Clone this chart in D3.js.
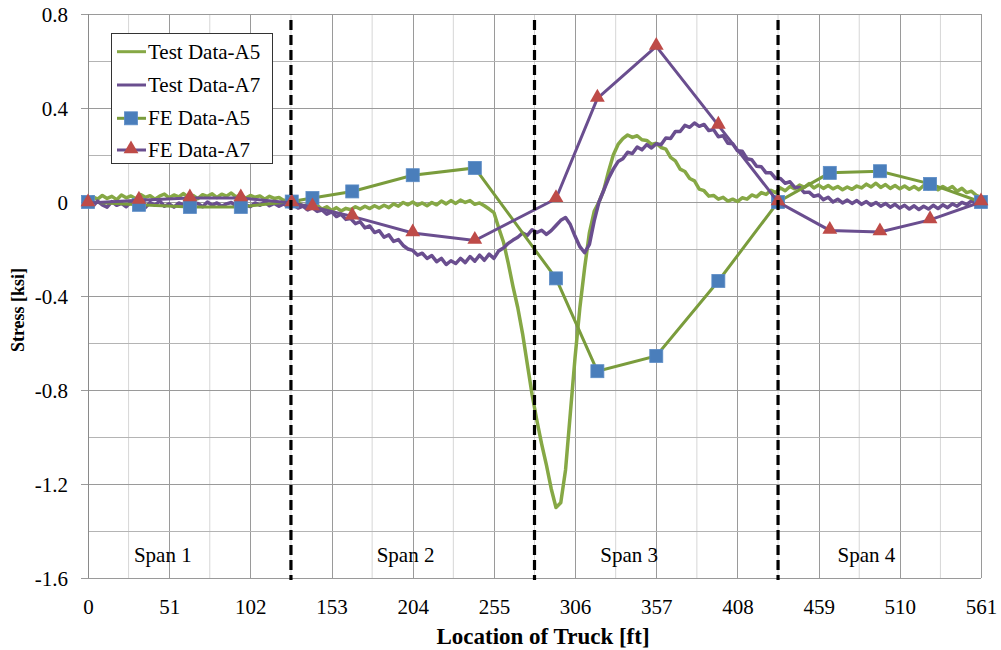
<!DOCTYPE html>
<html>
<head>
<meta charset="utf-8">
<script src="https://cdn.jsdelivr.net/npm/d3@7"></script>
<style>
  html, body { margin: 0; padding: 0; background: #fff; }
  svg { display: block; }
  svg text { font-family: "Liberation Serif", "Times New Roman", serif !important; fill: #000; }
</style>
</head>
<body>
<svg id="chart" width="1001" height="650"></svg>
<script>
// ---------- DATA ----------
const testLocation = [0,3,6,9,12,15,18,21,24,27,30,33,36,39,42,45,48,51,54,57,60,63,66,69,72,75,78,81,84,87,90,93,96,99,102,105,108,111,114,117,120,123,126,129,132,135,138,141,144,147,150,153,156,159,162,165,168,171,174,177,180,183,186,189,192,195,198,201,204,207,210,213,216,219,222,225,228,231,234,237,240,243,246,249,252,255,258,261,264,267,270,273,276,279,282,285,288,291,294,297,300,303,306,309,312,315,318,321,324,327,330,333,336,339,342,345,348,351,354,357,360,363,366,369,372,375,378,381,384,387,390,393,396,399,402,405,408,411,414,417,420,423,426,429,432,435,438,441,444,447,450,453,456,459,462,465,468,471,474,477,480,483,486,489,492,495,498,501,504,507,510,513,516,519,522,525,528,531,534,537,540,543,546,549,552,555,558,561];

const testA5 = [
  0.008, 0.022, 0.012, 0.028, 0.015, 0.024, 0.010, 0.030, 0.018, 0.026,
  0.014, 0.032, 0.020, 0.027, 0.012, 0.025, 0.034, 0.018, 0.030, 0.022,
  0.036, 0.020, 0.028, 0.014, 0.031, 0.024, 0.035, 0.019, 0.033, 0.025,
  0.038, 0.022, 0.030, 0.016, 0.028, 0.020, 0.026, 0.012, 0.024, 0.015,
  0.019, 0.006, 0.010, -0.008, 0.000, -0.018, -0.010, -0.026, -0.015, -0.030,
  -0.020, -0.036, -0.024, -0.038, -0.027, -0.033, -0.020, -0.030, -0.018, -0.028,
  -0.016, -0.026, -0.014, -0.024, -0.008, -0.018, -0.002, -0.012, 0.000, -0.014,
  -0.004, -0.016, -0.002, -0.012, 0.004, -0.008, 0.006, -0.006, 0.008, -0.002,
  0.006, -0.010, -0.004, -0.016, -0.030, -0.045, -0.11, -0.17, -0.26, -0.36,
  -0.45, -0.56, -0.69, -0.82, -0.93, -1.03, -1.12, -1.22, -1.30, -1.28,
  -1.14, -0.90, -0.66, -0.45, -0.28, -0.13, -0.04, 0.00, 0.05, 0.13,
  0.20, 0.245, 0.27, 0.285, 0.275, 0.282, 0.265, 0.262, 0.245, 0.25,
  0.232, 0.225, 0.19, 0.175, 0.14, 0.13, 0.10, 0.09, 0.055, 0.048,
  0.025, 0.028, 0.012, 0.020, 0.004, 0.012, 0.002, 0.018, 0.012, 0.030,
  0.022, 0.040, 0.032, 0.050, 0.040, 0.060, 0.048, 0.066, 0.056, 0.072,
  0.062, 0.078, 0.060, 0.072, 0.058, 0.070, 0.056, 0.066, 0.052, 0.064,
  0.054, 0.068, 0.060, 0.076, 0.064, 0.080, 0.062, 0.074, 0.058, 0.070,
  0.056, 0.068, 0.054, 0.066, 0.052, 0.070, 0.056, 0.068, 0.052, 0.066,
  0.054, 0.066, 0.046, 0.058, 0.040, 0.046, 0.028, 0.020
];

const testA7 = [
  -0.004, -0.018, 0.004, -0.012, -0.022, 0.002, -0.014, -0.006, -0.020, 0.000,
  -0.016, -0.008, -0.024, -0.002, -0.014, 0.004, -0.018, -0.008, -0.022, -0.004,
  -0.012, 0.002, -0.016, -0.006, -0.020, 0.000, -0.014, -0.004, -0.018, -0.008,
  -0.002, -0.016, 0.002, -0.012, -0.020, -0.004, -0.014, 0.000, -0.016, -0.006,
  -0.018, -0.008, -0.020, -0.012, -0.026, -0.018, -0.034, -0.024, -0.040, -0.034,
  -0.052, -0.042, -0.062, -0.052, -0.074, -0.070, -0.092, -0.084, -0.110, -0.102,
  -0.130, -0.122, -0.150, -0.140, -0.168, -0.160, -0.185, -0.200, -0.206, -0.226,
  -0.218, -0.240, -0.228, -0.254, -0.240, -0.266, -0.250, -0.262, -0.240, -0.258,
  -0.232, -0.252, -0.226, -0.248, -0.222, -0.240, -0.208, -0.196, -0.176, -0.162,
  -0.150, -0.132, -0.142, -0.118, -0.130, -0.120, -0.138, -0.122, -0.100, -0.078,
  -0.066, -0.096, -0.146, -0.190, -0.216, -0.180, -0.080, 0.000, 0.050, 0.100,
  0.140, 0.172, 0.184, 0.212, 0.206, 0.234, 0.222, 0.244, 0.230, 0.248,
  0.244, 0.272, 0.270, 0.300, 0.300, 0.326, 0.318, 0.336, 0.322, 0.330,
  0.304, 0.308, 0.278, 0.282, 0.250, 0.248, 0.218, 0.216, 0.184, 0.180,
  0.152, 0.150, 0.124, 0.124, 0.100, 0.100, 0.080, 0.086, 0.062, 0.062,
  0.040, 0.042, 0.024, 0.030, 0.010, 0.020, 0.000, 0.012, -0.004, 0.008,
  -0.006, 0.006, -0.010, 0.002, -0.014, -0.002, -0.018, -0.006, -0.022, -0.010,
  -0.026, -0.014, -0.030, -0.016, -0.032, -0.018, -0.030, -0.014, -0.028, -0.012,
  -0.024, -0.008, -0.018, -0.002, -0.010, 0.004, -0.002, 0.008
];

const feLocation = [0, 32, 64, 96, 128, 141, 166, 204, 243, 294, 320, 357, 396, 433.5, 466, 497.5, 529, 561];
const feA5 = [0, -0.012, -0.021, -0.021, 0.002, 0.017, 0.045, 0.114, 0.145, -0.325, -0.72, -0.655, -0.336, 0, 0.124, 0.131, 0.077, 0];
const feA7 = [-0.004, 0.007, 0.017, 0.017, -0.004, -0.021, -0.061, -0.132, -0.164, 0.014, 0.441, 0.662, 0.326, 0, -0.121, -0.128, -0.076, 0];

const xTicks = [0, 51, 102, 153, 204, 255, 306, 357, 408, 459, 510, 561];
const yTicks = [0.8, 0.4, 0, -0.4, -0.8, -1.2, -1.6];
const supportLocations = [127.5, 280.5, 433.5];
const spanNames = ["Span 1", "Span 2", "Span 3", "Span 4"];
const seriesNames = ["Test Data-A5", "Test Data-A7", "FE Data-A5", "FE Data-A7"];

// ---------- LAYOUT ----------
const SERIF = '"Liberation Serif", "Times New Roman", serif';
const svg = d3.select("#chart");
const L = 88, R = 981, T = 14, B = 578;
const x = d3.scaleLinear().domain([0, 561]).range([L, R]);
const y = d3.scaleLinear().domain([-1.6, 0.8]).range([B, T]);

const green = "#86A845", greenFE = "#7A9C3C", purple = "#6A4E8F";
const blueSq = "#4A7EBB", redTri = "#BE4B48";

// grid
const g = svg.append("g");
const minorX = d3.range(0, 21).map(i => i * 25.5 + 25.5).filter(v => v < 561 && v % 51 !== 0);
g.selectAll(".vminor").data(minorX).join("line")
  .attr("x1", d => x(d)).attr("x2", d => x(d)).attr("y1", T).attr("y2", B)
  .attr("stroke", "#d6d6d6").attr("stroke-width", 1);
g.selectAll(".vmajor").data(xTicks.slice(1)).join("line")
  .attr("x1", d => Math.round(x(d)) + 0.5).attr("x2", d => Math.round(x(d)) + 0.5).attr("y1", T).attr("y2", B)
  .attr("stroke", "#9a9a9a").attr("stroke-width", 1);
const yMinor = [0.6, 0.2, -0.2, -0.6, -1.0, -1.4];
g.selectAll(".hminor").data(yMinor).join("line")
  .attr("x1", L).attr("x2", R).attr("y1", d => Math.round(y(d)) + 0.5).attr("y2", d => Math.round(y(d)) + 0.5)
  .attr("stroke", "#b4b4b4").attr("stroke-width", 1);
g.selectAll(".hmajor").data(yTicks).join("line")
  .attr("x1", L - 7).attr("x2", R).attr("y1", d => Math.round(y(d)) + 0.5).attr("y2", d => Math.round(y(d)) + 0.5)
  .attr("stroke", "#9a9a9a").attr("stroke-width", 1);
g.append("line").attr("x1", L + 0.5).attr("x2", L + 0.5).attr("y1", T).attr("y2", B)
  .attr("stroke", "#8a8a8a").attr("stroke-width", 1);

// axis labels via d3 axes
const fmtY = d => d === 0 ? "0" : d3.format(".1f")(d).replace("\u2212", "-");
const yAxis = d3.axisLeft(y).tickValues(yTicks).tickSize(0).tickPadding(0).tickFormat(fmtY);
const ya = svg.append("g").attr("transform", `translate(${68},0)`).call(yAxis);
ya.attr("font-family", null).attr("font-size", null);
ya.select(".domain").remove();
ya.selectAll("text").style("font-family", SERIF).style("font-size", "21px").attr("fill", "#000").attr("dy", "0.34em");

const xAxis = d3.axisBottom(x).tickValues(xTicks).tickSize(0).tickPadding(0).tickFormat(d3.format("d"));
const xa = svg.append("g").attr("transform", `translate(0,${607})`).call(xAxis);
xa.attr("font-family", null).attr("font-size", null);
xa.select(".domain").remove();
xa.selectAll("text").style("font-family", SERIF).style("font-size", "21px").attr("fill", "#000").attr("dy", "0.34em");

// axis titles
svg.append("text").attr("x", 543).attr("y", 636).attr("dy", "0.34em")
  .attr("text-anchor", "middle").attr("font-weight", "bold").attr("font-size", 23)
  .text("Location of Truck [ft]");
svg.append("text").attr("transform", `translate(18,${310}) rotate(-90)`).attr("dy", "0.34em")
  .attr("text-anchor", "middle").attr("font-weight", "bold").attr("font-size", 18)
  .text("Stress [ksi]");

// test lines
const testLine = (vals) => d3.line().x((d, i) => x(testLocation[i])).y(d => y(d))(vals);
svg.append("path").attr("d", testLine(testA5)).attr("fill", "none")
  .attr("stroke", green).attr("stroke-width", 3.5).attr("stroke-linejoin", "round");
svg.append("path").attr("d", testLine(testA7)).attr("fill", "none")
  .attr("stroke", purple).attr("stroke-width", 3.5).attr("stroke-linejoin", "round");

// FE lines
const feLine = (vals) => d3.line().x((d, i) => x(feLocation[i])).y(d => y(d))(vals);
svg.append("path").attr("d", feLine(feA5)).attr("fill", "none")
  .attr("stroke", greenFE).attr("stroke-width", 3);
svg.selectAll(".sq").data(feA5).join("rect")
  .attr("x", (d, i) => x(feLocation[i]) - 6.5).attr("y", d => y(d) - 6.5)
  .attr("width", 13).attr("height", 13).attr("fill", blueSq)
  .attr("stroke", "#5b8cc6").attr("stroke-width", 0.8);
svg.append("path").attr("d", feLine(feA7)).attr("fill", "none")
  .attr("stroke", purple).attr("stroke-width", 3);
const tri = d3.symbol().type(d3.symbolTriangle).size(95);
svg.selectAll(".tri").data(feA7).join("path")
  .attr("d", tri).attr("transform", (d, i) => `translate(${x(feLocation[i])},${y(d) - 1})`)
  .attr("fill", redTri);

// support dashed lines
svg.selectAll(".sup").data(supportLocations).join("line")
  .attr("x1", d => x(d)).attr("x2", d => x(d)).attr("y1", T + 6).attr("y2", B + 2)
  .attr("stroke", "#000").attr("stroke-width", 3.2).attr("stroke-dasharray", "10,5");

// span labels
const spanX = [47, 199.5, 340, 489];
svg.selectAll(".span").data(spanNames).join("text")
  .attr("x", (d, i) => x(spanX[i])).attr("y", 555).attr("dy", "0.34em")
  .attr("text-anchor", "middle").attr("font-size", 21).text(d => d);

// legend
const lg = svg.append("g");
lg.append("rect").attr("x", 111.5).attr("y", 33.5).attr("width", 161).attr("height", 130)
  .attr("fill", "#fff").attr("stroke", "#333").attr("stroke-width", 1);
const legY = [51.7, 85, 118.3, 150];
const legColor = [green, purple, greenFE, purple];
seriesNames.forEach((name, i) => {
  lg.append("line").attr("x1", 117).attr("x2", 146).attr("y1", legY[i]).attr("y2", legY[i])
    .attr("stroke", legColor[i]).attr("stroke-width", 3);
  if (i === 2) {
    lg.append("rect").attr("x", 131 - 6.5).attr("y", legY[i] - 6.5).attr("width", 13).attr("height", 13)
      .attr("fill", blueSq).attr("stroke", "#5b8cc6").attr("stroke-width", 0.8);
  }
  if (i === 3) {
    lg.append("path").attr("d", tri).attr("transform", `translate(131,${legY[i] - 1})`).attr("fill", redTri);
  }
  lg.append("text").attr("x", 148).attr("y", legY[i]).attr("dy", "0.34em")
    .attr("font-size", 21).text(name);
});
</script>
</body>
</html>
